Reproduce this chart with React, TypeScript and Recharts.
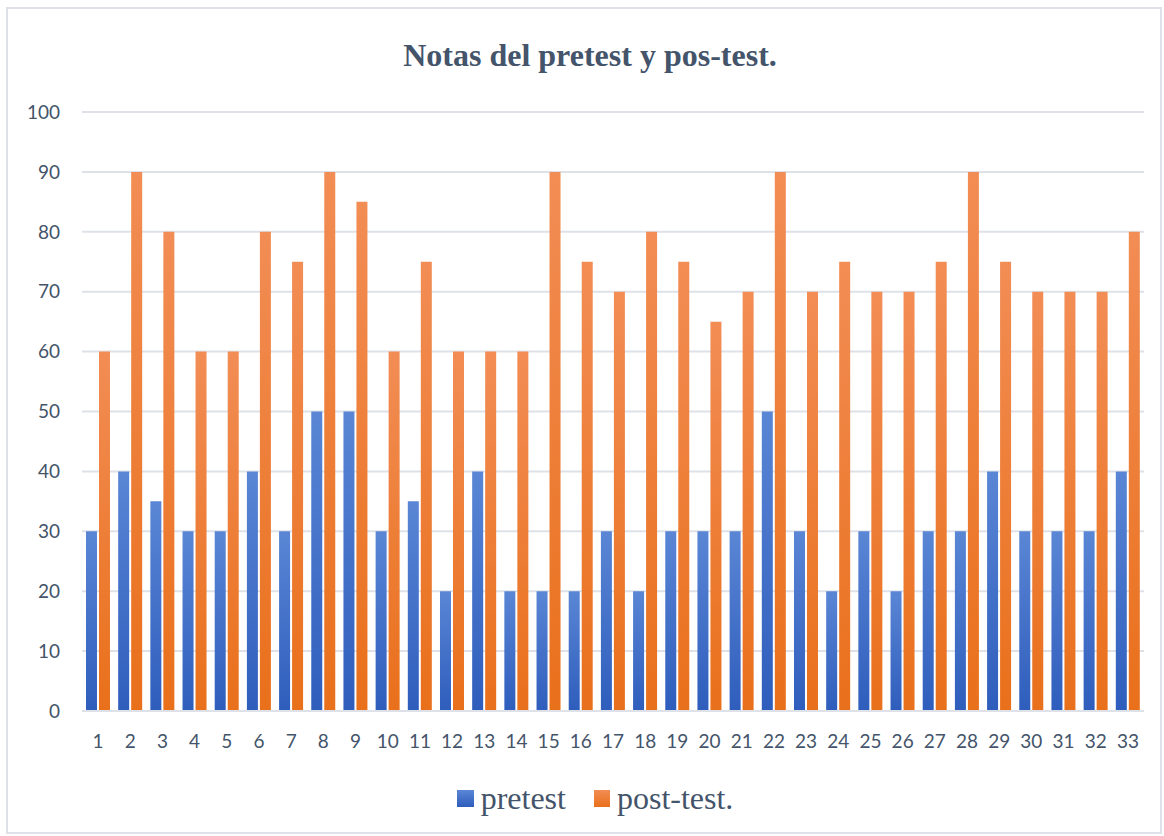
import React from 'react';
import { BarChart, Bar, XAxis, YAxis, CartesianGrid } from 'recharts';

const categories = ['1', '2', '3', '4', '5', '6', '7', '8', '9', '10', '11', '12', '13', '14', '15', '16', '17', '18', '19', '20', '21', '22', '23', '24', '25', '26', '27', '28', '29', '30', '31', '32', '33'];
const pretest = [30, 40, 35, 30, 30, 40, 30, 50, 50, 30, 35, 20, 40, 20, 20, 20, 30, 20, 30, 30, 30, 50, 30, 20, 30, 20, 30, 30, 40, 30, 30, 30, 40];
const postTest = [60, 90, 80, 60, 60, 80, 75, 90, 85, 60, 75, 60, 60, 60, 90, 75, 70, 80, 75, 65, 70, 90, 70, 75, 70, 70, 75, 90, 75, 70, 70, 70, 80];
const yTicks = [0, 10, 20, 30, 40, 50, 60, 70, 80, 90, 100];

const data = categories.map((c, i) => ({ name: c, pretest: pretest[i], post: postTest[i] }));

const textColor = '#44546A';

export default function App() {
  return (
    <div style={{ position: 'absolute', left: 0, top: 0, width: 1164, height: 836, background: '#fff', overflow: 'hidden' }}>
      <div style={{ position: 'absolute', left: 6, top: 7, width: 1156, height: 827, border: '2px solid #DEE2E8', boxSizing: 'border-box' }} />
      <div style={{ position: 'absolute', left: 0, top: 37, width: 1180, textAlign: 'center', fontFamily: '"Liberation Serif", serif', fontWeight: 'bold', fontSize: 32, color: textColor }}>
        Notas del pretest y pos-test.
      </div>
      <div style={{ position: 'absolute', left: 0, top: 0 }}>
        <BarChart width={1164} height={836} data={data} margin={{ top: 112, right: 20, left: 0, bottom: 85 }} barCategoryGap="12.4%" barGap={2}>
          <defs>
            <linearGradient id="gBlue" x1="0" y1="0" x2="0" y2="1">
              <stop offset="0%" stopColor="#5A86D5" />
              <stop offset="100%" stopColor="#2E5DBC" />
            </linearGradient>
            <linearGradient id="gOrange" x1="0" y1="0" x2="0" y2="1">
              <stop offset="0%" stopColor="#F28D55" />
              <stop offset="100%" stopColor="#E9701B" />
            </linearGradient>
          </defs>
          <CartesianGrid vertical={false} stroke="#DEE2E8" strokeWidth={2} />
          <XAxis
            dataKey="name"
            height={40}
            tickSize={0}
            tickMargin={24}
            axisLine={{ stroke: '#DEE2E8', strokeWidth: 2 }}
            tickLine={false}
            interval={0}
            tick={{ fill: textColor, fontSize: 19, fontFamily: 'Lato, "Open Sans", sans-serif' }}
          />
          <YAxis
            width={82}
            domain={[0, 100]}
            ticks={yTicks}
            tickSize={0}
            tickMargin={22}
            axisLine={false}
            tickLine={false}
            tick={{ fill: textColor, fontSize: 19, fontFamily: 'Lato, "Open Sans", sans-serif' }}
          />
          <Bar dataKey="pretest" fill="url(#gBlue)" isAnimationActive={false} />
          <Bar dataKey="post" fill="url(#gOrange)" isAnimationActive={false} />
        </BarChart>
      </div>
      <div style={{ position: 'absolute', left: 0, top: 780, width: 1190, display: 'flex', justifyContent: 'center', alignItems: 'center', fontFamily: '"Liberation Serif", "Times New Roman", serif', fontSize: 32, color: textColor }}>
        <span style={{ display: 'inline-block', width: 17, height: 17, background: 'linear-gradient(#5A86D5, #2E5DBC)', marginRight: 7 }} />
        <span style={{ marginRight: 28 }}>pretest</span>
        <span style={{ display: 'inline-block', width: 16, height: 17, background: 'linear-gradient(#F28D55, #E9701B)', marginRight: 7 }} />
        <span>post-test.</span>
      </div>
    </div>
  );
}
